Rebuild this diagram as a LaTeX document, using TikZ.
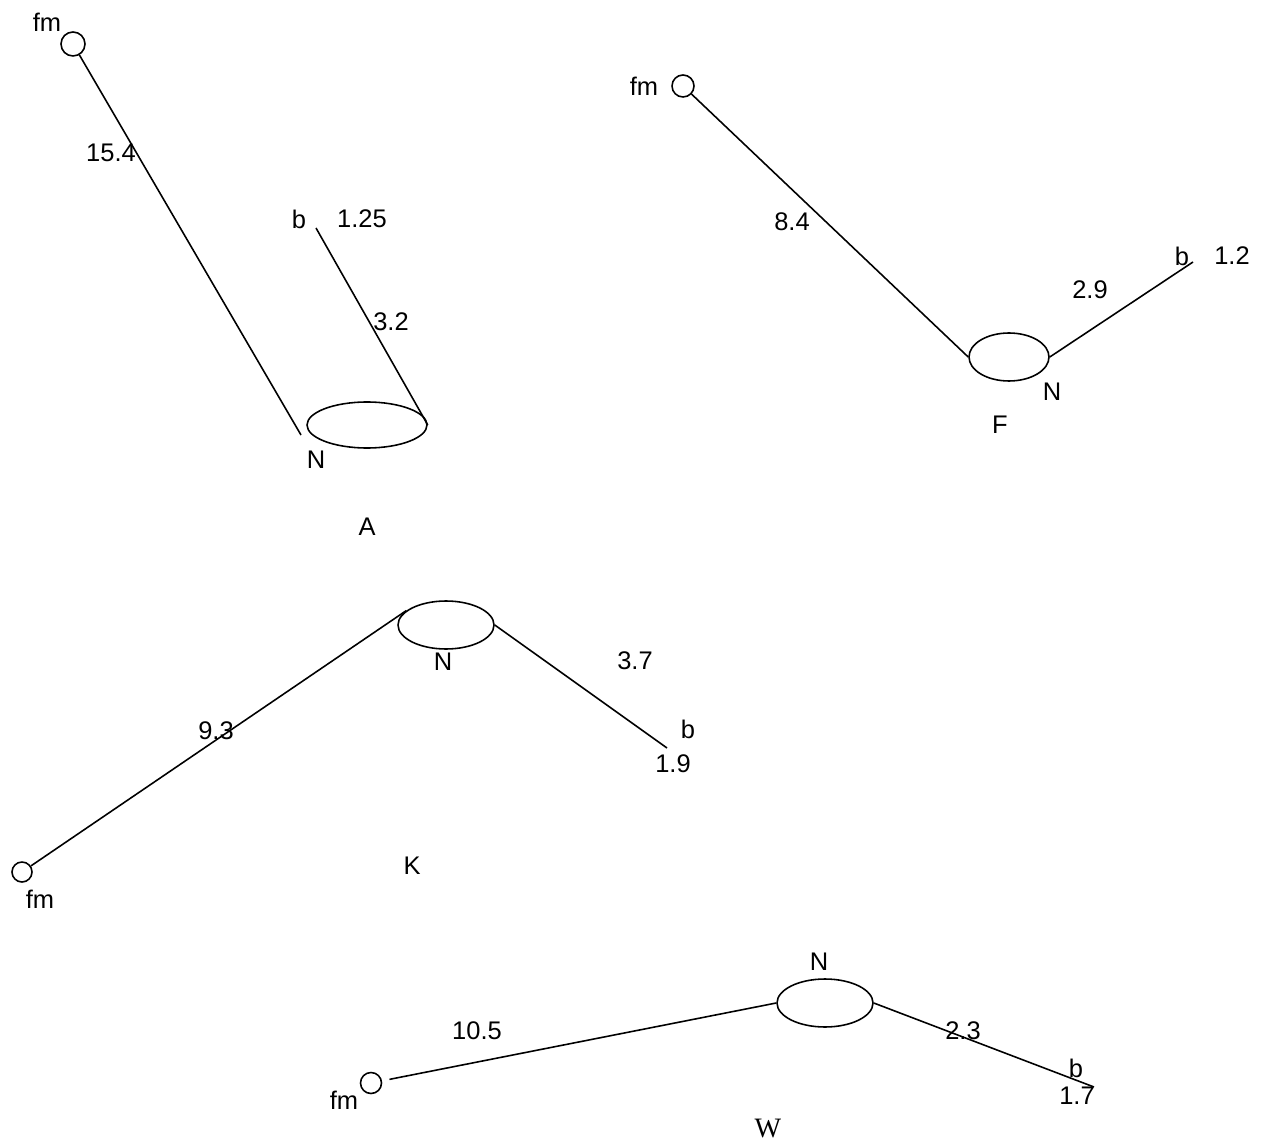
\documentclass[tikz,border=0pt]{standalone}
\usepackage{fontspec}
\setmainfont{Liberation Sans}
\newfontfamily\seriffont{Liberation Serif}
\usetikzlibrary{shapes.geometric}

\begin{document}
\begin{tikzpicture}[
    x=0.02cm, y=-0.02cm,
    every node/.style={font=\fontsize{14.5}{16}\selectfont, inner sep=0pt},
    hub/.style={draw, ellipse, line width=0.9pt,
                minimum width=1.92cm, minimum height=0.96cm},
    ring/.style={draw, circle, line width=0.9pt, minimum size=0.44cm},
    link/.style={line width=0.9pt}
]
\useasboundingbox (0,0) rectangle (1264,1148);

\node[ring, minimum size=0.48cm] (fmA) at (73,44) {};
\node[hub, minimum width=2.4cm, minimum height=0.92cm] (nA) at (367,425) {};
\coordinate (endA) at (301,435);
\coordinate (bA) at (316,228);
\draw[link] (fmA) -- (endA);
\draw[link] (bA) -- (nA.east);
\node (fmA-t) at (47,22) {fm};
\node (lenA1) at (111,153) {15.4};
\node (bA-t) at (299,219) {b};
\node (wA) at (362,219) {1.25};
\node (lenA2) at (391,322) {3.2};
\node (nA-t) at (316,460) {N};
\node (capA) at (367,527) {A};

\node[ring] (fmF) at (683,86) {};
\node[hub, minimum width=1.6cm] (nF) at (1009,357) {};
\coordinate (bF) at (1193,262);
\draw[link] (fmF) -- (nF.west);
\draw[link] (nF.east) -- (bF);
\node (fmF-t) at (644,86) {fm};
\node (lenF1) at (792,222) {8.4};
\node (lenF2) at (1090,290) {2.9};
\node (bF-t) at (1182,256) {b};
\node (wF) at (1232,256) {1.2};
\node (nF-t) at (1052,392) {N};
\node (capF) at (1000,425) {F};

\node[ring, minimum size=0.4cm] (fmK) at (22,872) {};
\node[hub] (nK) at (446,625) {};
\coordinate (bK) at (667,748);
\draw[link] (fmK) -- (nK.160);
\draw[link] (nK.east) -- (bK);
\node (nK-t) at (443,662) {N};
\node (lenK1) at (216,731) {9.3};
\node (lenK2) at (635,661) {3.7};
\node (bK-t) at (688,729) {b};
\node (wK) at (673,764) {1.9};
\node (fmK-t) at (40,899) {fm};
\node (capK) at (412,866) {K};

\node[ring, minimum size=0.42cm] (fmW) at (371,1083) {};
\node[hub] (nW) at (825,1003) {};
\coordinate (bW) at (1094,1087);
\draw[link, shorten <=0.15cm] (fmW) -- (nW.west);
\draw[link] (nW.east) -- (bW);
\node (nW-t) at (819,962) {N};
\node (lenW1) at (477,1031) {10.5};
\node (lenW2) at (963,1031) {2.3};
\node (bW-t) at (1076,1068) {b};
\node (wW) at (1077,1096) {1.7};
\node (fmW-t) at (344,1100) {fm};
\node[font=\seriffont\fontsize{16}{18}\selectfont] (capW) at (768,1129) {W};
\end{tikzpicture}
\end{document}
